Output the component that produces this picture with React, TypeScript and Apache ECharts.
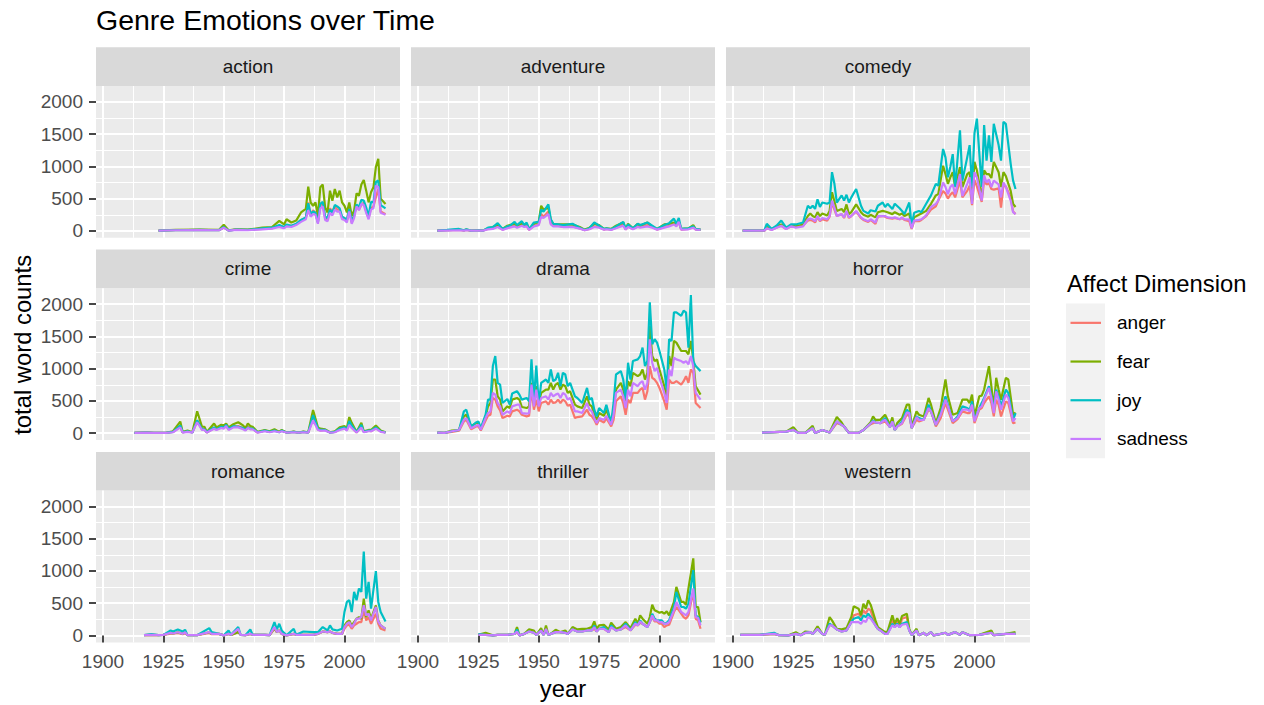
import React, { useEffect, useRef } from "react";
import * as echarts from "echarts";

const emotions = ["anger", "fear", "joy", "sadness"];
const emotionColors = ["#F8766D", "#7CAE00", "#00BFC4", "#C77CFF"];
const xMajorTicks = [1900, 1925, 1950, 1975, 2000];
const xMinorTicks = [1912.5, 1937.5, 1962.5, 1987.5, 2012.5];
const yMajorTicks = [0, 500, 1000, 1500, 2000];
const yMinorTicks = [250, 750, 1250, 1750];

// ---- action ----
const actionYears = [1923,1930,1940,1948,1950,1952,1955,1960,1966,1970,1973,1975,1976,1978,1980,1982,1984,1985,1986,1987,1988,1989,1990,1991,1992,1993,1994,1995,1996,1997,1998,1999,2000,2001,2002,2003,2004,2005,2006,2007,2008,2009,2010,2011,2012,2013,2014,2015,2017];
const actionAnger = [5,10,15,10,50,5,20,15,30,40,80,60,90,80,100,170,200,440,250,320,280,140,400,420,200,170,350,300,380,330,330,210,200,160,350,130,250,390,330,400,440,300,200,350,380,520,650,300,260];
const actionFear = [5,15,20,15,94,10,25,20,50,60,156,100,180,130,160,286,340,686,440,390,440,234,676,718,364,286,624,468,650,520,624,442,390,286,442,234,312,582,546,718,790,624,442,598,676,988,1118,500,416];
const actionJoy = [5,10,15,10,60,5,20,15,40,50,90,60,100,80,110,170,210,430,260,300,280,130,420,450,220,200,330,280,400,380,350,220,200,170,340,150,230,410,370,480,470,360,230,450,440,760,780,400,350];
const actionSadness = [5,10,12,10,50,5,15,10,25,35,60,40,70,60,90,140,180,320,220,260,250,110,350,380,170,150,280,240,330,300,300,180,170,130,300,110,200,380,320,420,400,280,180,330,350,700,680,280,250];

// ---- adventure ----
const adventureYears = [1908,1912,1917,1919,1920,1922,1925,1927,1929,1931,1933,1935,1937,1938,1940,1941,1943,1944,1945,1946,1948,1950,1951,1952,1954,1955,1956,1958,1960,1964,1967,1969,1971,1973,1975,1977,1978,1980,1982,1985,1986,1987,1989,1991,1992,1995,1997,1999,2002,2004,2006,2007,2008,2009,2012,2014,2015,2017];
const adventureAnger = [5,10,15,5,15,5,10,5,30,40,70,20,50,60,80,60,90,70,80,15,80,100,260,220,300,120,80,80,60,70,40,10,30,70,60,20,30,20,50,100,20,70,30,70,60,90,60,20,60,80,110,80,150,20,30,60,20,15];
const adventureFear = [5,10,20,10,20,5,10,5,40,60,90,30,80,90,110,80,110,90,110,25,110,140,390,330,360,170,110,100,100,100,60,20,50,110,90,30,40,30,80,130,30,110,40,110,80,130,70,30,100,110,130,100,150,30,40,90,30,20];
const adventureJoy = [5,15,30,10,25,5,10,5,50,60,120,30,70,80,140,90,150,90,130,25,130,140,330,300,410,180,110,100,90,110,50,15,40,130,80,30,40,25,70,140,30,100,40,110,90,130,80,30,90,120,190,110,200,30,40,70,30,20];
const adventureSadness = [5,5,10,5,10,5,5,5,25,30,60,15,40,50,70,50,80,60,70,15,70,90,220,200,260,100,70,70,60,60,35,10,25,60,50,20,25,15,40,80,20,60,25,60,50,70,50,20,50,70,100,70,140,20,25,50,20,15];

// ---- comedy ----
const comedyYears = [1904,1913,1914,1916,1918,1920,1922,1924,1926,1929,1931,1932,1933,1934,1935,1936,1937,1939,1940,1941,1942,1943,1945,1946,1947,1948,1949,1951,1953,1954,1956,1957,1959,1960,1962,1963,1964,1966,1967,1969,1970,1971,1973,1974,1975,1977,1978,1980,1982,1984,1985,1987,1988,1989,1990,1991,1992,1994,1995,1997,1998,1999,2000,2001,2003,2004,2005,2006,2007,2008,2010,2011,2012,2013,2015,2016,2017];
const comedyAnger = [5,5,40,20,50,80,30,70,60,80,160,170,160,130,220,150,180,160,220,440,330,230,260,200,300,200,230,300,200,170,140,170,110,220,230,220,200,190,200,180,200,170,150,30,150,150,170,230,330,380,470,620,580,500,560,600,520,780,520,620,700,400,790,690,450,780,720,740,650,640,660,360,700,690,520,300,260];
const comedyFear = [5,5,60,25,70,100,40,90,70,100,230,270,230,210,290,230,270,240,310,600,460,310,340,290,410,260,290,410,290,250,220,250,210,290,310,300,290,260,290,250,270,230,270,50,210,250,270,310,420,550,570,1010,880,730,830,910,680,990,680,880,910,470,1070,940,520,940,880,880,820,1070,910,680,910,850,620,420,370];
const comedyJoy = [5,10,110,30,80,160,50,100,100,130,390,350,390,340,490,370,440,420,440,910,730,440,550,470,560,440,520,650,390,310,270,320,300,390,440,370,420,340,420,350,310,260,440,80,280,310,290,420,550,730,700,1270,1140,830,990,1190,680,1560,780,1140,1330,680,1510,1740,680,1640,1090,1480,1070,1660,1330,1090,1690,1660,1040,780,650];
const comedySadness = [5,5,40,15,50,80,30,70,50,70,180,190,180,150,230,160,200,180,230,470,360,230,260,210,310,210,230,310,210,180,150,180,130,230,230,230,210,200,210,180,210,180,180,40,160,170,180,240,370,420,470,750,680,570,680,720,570,880,540,730,830,420,910,830,470,860,750,800,680,780,720,520,750,680,470,290,260];

// ---- crime ----
const crimeYears = [1913,1918,1921,1926,1929,1932,1933,1935,1937,1939,1941,1942,1943,1946,1947,1949,1950,1951,1952,1954,1956,1958,1959,1960,1961,1962,1964,1967,1969,1971,1973,1974,1976,1979,1981,1983,1985,1987,1989,1990,1992,1994,1996,1998,2000,2001,2002,2003,2005,2007,2008,2010,2011,2013,2015,2017];
const crimeAnger = [5,10,5,5,20,100,10,30,10,200,60,60,10,80,60,90,80,120,60,100,110,80,50,100,70,70,10,40,20,50,20,40,10,20,10,20,10,230,60,40,50,10,20,60,80,50,150,90,10,100,20,40,30,80,30,10];
const crimeFear = [5,15,5,5,30,180,20,40,15,340,100,100,20,150,90,130,120,150,90,140,170,120,80,150,110,100,20,50,30,60,20,50,10,25,10,25,15,360,90,70,60,15,30,90,110,80,250,160,20,160,30,50,50,120,40,15];
const crimeJoy = [5,10,5,5,20,120,15,30,10,200,60,60,15,90,60,100,90,130,70,110,100,80,50,90,70,70,15,40,20,40,15,40,10,20,10,20,10,280,70,50,50,10,20,70,90,60,190,120,15,130,20,40,40,90,30,10];
const crimeSadness = [5,10,5,5,15,90,10,20,10,170,50,50,10,70,50,80,70,110,50,90,90,60,40,80,60,60,10,30,15,30,15,30,10,15,10,15,10,200,50,40,40,10,15,50,70,40,130,80,10,90,15,30,30,70,20,10];

// ---- drama ----
const dramaYears = [1908,1911,1914,1917,1919,1920,1922,1924,1925,1926,1928,1929,1930,1931,1932,1933,1934,1935,1937,1938,1939,1941,1942,1943,1945,1946,1947,1948,1949,1950,1951,1953,1954,1955,1956,1957,1958,1959,1960,1961,1962,1963,1965,1966,1968,1970,1971,1972,1973,1974,1975,1977,1978,1980,1981,1982,1984,1985,1986,1987,1988,1989,1991,1992,1993,1994,1995,1996,1997,1998,1999,2000,2002,2003,2004,2005,2006,2007,2009,2010,2011,2012,2013,2014,2015,2017];
const dramaAnger = [10,5,20,40,182,208,62,104,104,42,198,270,286,546,520,416,354,234,270,260,338,364,338,286,260,270,676,364,520,338,468,494,442,520,468,478,520,468,520,494,426,442,234,250,260,364,286,260,208,130,208,166,234,104,208,494,572,468,286,520,468,624,624,676,702,520,650,1040,858,832,780,702,494,364,832,780,780,806,754,806,884,780,988,936,468,390];
const dramaFear = [10,5,40,50,260,286,104,156,156,62,260,416,468,832,832,572,520,338,416,390,520,546,520,406,390,416,780,468,728,468,624,676,676,780,676,754,780,676,754,728,624,650,442,416,390,572,442,416,286,208,312,270,364,146,364,676,780,676,468,806,728,936,884,910,988,832,936,1664,1196,1118,1144,988,728,572,1196,1040,1430,1404,1274,1274,1274,1222,1430,1144,728,598];
const dramaJoy = [10,5,30,50,338,364,104,166,182,78,286,520,520,1040,1196,780,754,468,530,442,614,650,598,520,546,494,1144,520,1050,442,780,832,780,988,806,832,936,728,936,910,728,780,572,546,468,702,520,546,364,260,390,312,442,156,468,910,962,832,520,1092,832,1118,1144,1196,1326,1040,1118,2028,1378,1456,1404,1274,988,676,1456,1430,1872,1872,1820,1898,1872,1326,2140,1118,1040,962];
const dramaSadness = [10,5,30,50,208,234,78,114,130,52,234,312,338,624,598,468,416,286,338,312,416,442,442,312,302,312,754,416,676,416,546,572,520,624,572,598,614,546,624,598,520,546,338,338,312,468,364,338,234,156,234,208,270,130,286,624,676,572,390,676,572,780,728,780,806,676,780,1456,1092,962,1014,858,624,468,988,884,1170,1144,1118,1092,1118,1066,1196,1040,624,520];

// ---- horror ----
const horrorYears = [1912,1922,1925,1927,1930,1933,1934,1937,1940,1943,1945,1946,1948,1952,1954,1957,1958,1959,1961,1963,1965,1966,1967,1968,1970,1972,1973,1974,1976,1977,1979,1981,1982,1984,1986,1988,1989,1991,1993,1995,1997,1998,1999,2000,2002,2003,2004,2006,2007,2008,2009,2010,2011,2013,2014,2016,2017];
const horrorAnger = [10,25,52,5,5,78,5,50,10,156,130,104,5,5,50,140,156,166,156,182,94,182,52,104,146,286,270,78,208,182,208,364,338,104,234,468,364,156,218,338,312,312,416,156,364,390,468,572,468,260,520,442,260,494,468,156,166];
const horrorFear = [10,25,94,5,5,114,5,50,10,250,166,104,5,5,50,170,260,208,208,286,130,244,52,156,234,442,442,104,338,286,260,546,442,156,390,832,572,286,312,520,520,468,598,260,572,582,676,1040,728,390,858,676,520,858,832,286,322];
const horrorJoy = [10,25,52,5,5,78,5,50,10,182,130,104,5,5,50,150,198,166,156,234,94,182,52,104,182,364,322,78,260,234,208,442,338,130,312,572,442,182,260,416,390,364,494,208,390,468,546,728,572,364,676,572,416,676,624,208,312];
const horrorSadness = [10,25,52,5,5,78,5,50,10,182,130,104,5,5,50,150,182,166,156,208,94,182,52,104,156,322,312,78,250,208,208,390,338,130,286,520,416,182,234,364,364,338,442,182,390,416,520,702,546,312,650,520,364,598,546,182,234];

// ---- romance ----
const romanceYears = [1917,1920,1923,1925,1928,1929,1931,1933,1934,1935,1939,1944,1945,1948,1950,1952,1953,1956,1957,1959,1961,1962,1964,1967,1969,1971,1972,1973,1974,1976,1979,1980,1983,1987,1989,1991,1993,1994,1995,1997,1999,2000,2001,2002,2003,2004,2005,2006,2007,2008,2009,2010,2011,2013,2014,2015,2017];
const romanceAnger = [5,10,5,10,30,30,40,20,40,5,5,40,20,25,2,25,10,52,10,5,25,10,10,10,5,104,52,78,25,2,25,10,10,10,25,60,52,62,40,25,25,104,156,166,104,156,182,208,208,390,234,286,182,338,182,104,78];
const romanceFear = [5,10,5,10,40,30,50,25,50,5,5,50,25,25,2,25,10,52,10,5,25,10,10,10,5,114,52,78,25,2,25,10,10,10,25,62,52,62,40,25,25,156,208,234,156,208,260,286,260,572,286,390,260,468,234,156,104];
const romanceJoy = [5,20,5,10,78,62,94,62,88,5,5,114,52,25,2,78,10,130,10,5,94,10,10,10,5,208,94,182,78,2,104,10,62,52,52,130,78,156,94,78,104,364,520,546,364,676,546,728,676,1300,572,832,416,998,520,364,218];
const romanceSadness = [5,10,5,10,40,30,50,25,50,5,5,52,25,25,2,25,10,104,10,5,25,10,10,10,5,130,52,78,25,2,25,10,10,10,25,62,52,62,40,25,25,130,182,208,130,182,260,260,286,468,312,338,234,442,218,156,104];

// ---- thriller ----
const thrillerYears = [1925,1928,1931,1933,1937,1940,1941,1942,1944,1946,1948,1949,1951,1952,1953,1954,1955,1957,1959,1961,1962,1964,1966,1968,1970,1972,1973,1974,1975,1977,1979,1980,1982,1984,1986,1988,1990,1991,1992,1993,1995,1996,1997,1998,1999,2000,2001,2002,2003,2004,2006,2007,2009,2010,2011,2012,2014,2015,2016,2017];
const thrillerAnger = [10,10,2,10,10,25,52,2,25,62,42,10,78,10,94,10,25,52,52,42,25,94,62,62,78,78,104,62,104,104,52,130,78,94,130,78,166,156,198,182,130,208,286,218,218,182,182,130,156,166,364,442,338,286,260,312,676,260,234,104];
const thrillerFear = [10,42,2,10,10,25,130,2,25,94,78,10,114,10,156,10,25,88,52,78,25,130,94,104,104,130,218,104,156,166,94,198,104,130,208,114,260,182,312,260,182,286,478,390,374,354,364,338,374,312,520,754,520,520,478,728,1196,442,442,208];
const thrillerJoy = [20,10,2,10,10,25,94,2,25,62,42,10,78,10,94,10,25,52,52,42,25,94,62,62,78,78,156,62,104,130,52,156,78,94,182,78,208,156,234,182,130,208,338,260,234,234,234,182,198,234,442,676,442,442,416,494,1014,312,286,198];
const thrillerSadness = [10,10,2,10,10,25,62,2,25,62,42,10,78,10,104,10,25,52,52,42,25,94,62,62,78,78,130,62,104,104,52,130,78,94,156,78,182,156,218,182,130,208,312,234,234,208,208,182,182,208,390,520,364,338,312,364,728,286,270,156];

// ---- western ----
const westernYears = [1903,1911,1917,1919,1923,1926,1928,1930,1932,1933,1935,1937,1938,1940,1941,1943,1945,1947,1949,1950,1952,1953,1954,1955,1956,1957,1959,1960,1961,1963,1964,1966,1967,1968,1969,1970,1972,1973,1974,1976,1977,1979,1980,1982,1983,1986,1988,1989,1992,1994,1995,1998,2002,2007,2008,2013,2017];
const westernAnger = [10,10,25,5,2,25,5,42,52,25,104,25,10,166,156,94,62,78,208,312,338,286,390,338,416,390,156,104,78,26,26,234,130,234,130,260,286,78,10,78,2,42,2,52,2,25,42,10,52,10,52,5,10,42,5,25,25];
const westernFear = [10,10,25,5,2,52,5,62,52,25,140,25,10,286,234,104,94,114,286,452,416,312,494,416,546,478,234,130,104,52,62,312,182,270,182,302,338,104,10,104,2,42,2,52,2,25,42,10,52,10,52,5,10,78,5,25,52];
const westernJoy = [10,10,42,5,2,25,5,42,52,25,104,25,10,182,156,94,62,78,208,260,286,234,312,286,338,286,156,104,78,26,26,182,130,182,130,182,208,78,10,78,2,42,2,52,2,25,42,10,52,10,52,5,10,42,5,25,25];
const westernSadness = [10,10,25,5,2,25,5,42,52,25,104,25,10,156,156,94,62,78,208,208,208,182,234,208,286,260,156,104,78,26,26,156,130,166,130,166,182,78,10,78,2,42,2,52,2,25,42,10,52,10,52,5,10,42,5,25,25];

const panels = [
  { genre: "action", years: actionYears, values: [actionAnger, actionFear, actionJoy, actionSadness] },
  { genre: "adventure", years: adventureYears, values: [adventureAnger, adventureFear, adventureJoy, adventureSadness] },
  { genre: "comedy", years: comedyYears, values: [comedyAnger, comedyFear, comedyJoy, comedySadness] },
  { genre: "crime", years: crimeYears, values: [crimeAnger, crimeFear, crimeJoy, crimeSadness] },
  { genre: "drama", years: dramaYears, values: [dramaAnger, dramaFear, dramaJoy, dramaSadness] },
  { genre: "horror", years: horrorYears, values: [horrorAnger, horrorFear, horrorJoy, horrorSadness] },
  { genre: "romance", years: romanceYears, values: [romanceAnger, romanceFear, romanceJoy, romanceSadness] },
  { genre: "thriller", years: thrillerYears, values: [thrillerAnger, thrillerFear, thrillerJoy, thrillerSadness] },
  { genre: "western", years: westernYears, values: [westernAnger, westernFear, westernJoy, westernSadness] },
];

const FONT = "'Liberation Sans', Arial, Helvetica, sans-serif";
const COL_X = [96, 411, 726];
const PANEL_W = 304;
const STRIP_TOP = [47.3, 249.6, 451.9];
const STRIP_H = 38.7;
const PLOT_H = 151.8;
const X_MIN = 1897.1;
const X_MAX = 2023.0;
const Y_MIN = -107;
const Y_MAX = 2246;

function buildOption() {
  const grid: any[] = [];
  const xAxis: any[] = [];
  const yAxis: any[] = [];
  const series: any[] = [];
  const graphics: any[] = [];

  panels.forEach((p, i) => {
    const r = Math.floor(i / 3);
    const c = i % 3;
    const plotTop = STRIP_TOP[r] + STRIP_H;
    grid.push({
      left: COL_X[c], top: plotTop, width: PANEL_W, height: PLOT_H,
      show: true, backgroundColor: "#EBEBEB", borderWidth: 0, containLabel: false,
    });
    const fmt = (v: number) => String(v);
    xAxis.push({
      type: "value", gridIndex: i, min: X_MIN, max: X_MAX,
      axisLine: { show: false },
      axisTick: { show: r === 2, customValues: xMajorTicks, length: 7, lineStyle: { color: "#333333", width: 1.8 } },
      axisLabel: { show: r === 2, customValues: xMajorTicks, formatter: fmt, color: "#4D4D4D", fontSize: 19, fontFamily: FONT, margin: 10 },
      splitLine: { show: true, lineStyle: { color: "#FFFFFF", width: 2 } },
    });
    xAxis.push({
      type: "value", gridIndex: i, min: X_MIN, max: X_MAX,
      axisLine: { show: false },
      axisTick: { show: false, customValues: xMinorTicks },
      axisLabel: { show: false, customValues: xMinorTicks },
      splitLine: { show: true, lineStyle: { color: "#FFFFFF", width: 1 } },
    });
    yAxis.push({
      type: "value", gridIndex: i, min: Y_MIN, max: Y_MAX,
      axisLine: { show: false },
      axisTick: { show: c === 0, customValues: yMajorTicks, length: 7, lineStyle: { color: "#333333", width: 1.8 } },
      axisLabel: { show: c === 0, customValues: yMajorTicks, formatter: fmt, color: "#4D4D4D", fontSize: 19, fontFamily: FONT, margin: 13 },
      splitLine: { show: true, lineStyle: { color: "#FFFFFF", width: 2 } },
    });
    yAxis.push({
      type: "value", gridIndex: i, min: Y_MIN, max: Y_MAX,
      axisLine: { show: false },
      axisTick: { show: false, customValues: yMinorTicks },
      axisLabel: { show: false, customValues: yMinorTicks },
      splitLine: { show: true, lineStyle: { color: "#FFFFFF", width: 1 } },
    });

    emotions.forEach((name, k) => {
      series.push({
        type: "line", name,
        xAxisIndex: 2 * i, yAxisIndex: 2 * i,
        data: p.years.map((y, j) => [y, p.values[k][j]]),
        symbol: "none", showSymbol: false, silent: true,
        lineStyle: { width: 2.2, color: emotionColors[k] },
        itemStyle: { color: emotionColors[k] },
        emphasis: { disabled: true },
        z: 3,
      });
    });

    // strip
    graphics.push({
      type: "rect", shape: { x: COL_X[c], y: STRIP_TOP[r], width: PANEL_W, height: STRIP_H },
      style: { fill: "#D9D9D9" }, silent: true,
    });
    graphics.push({
      type: "text", x: COL_X[c] + PANEL_W / 2, y: STRIP_TOP[r] + STRIP_H / 2,
      style: { text: p.genre, fill: "#1A1A1A", fontSize: 19, fontFamily: FONT, textAlign: "center", verticalAlign: "middle" },
      silent: true,
    });
  });

  // title and axis titles
  graphics.push({
    type: "text", x: 96, y: 19.5,
    style: { text: "Genre Emotions over Time", fill: "#000000", fontSize: 28.5, fontFamily: FONT, textAlign: "left", verticalAlign: "middle" },
  });
  graphics.push({
    type: "text", x: (COL_X[0] + COL_X[2] + PANEL_W) / 2, y: 688,
    style: { text: "year", fill: "#000000", fontSize: 23.8, fontFamily: FONT, textAlign: "center", verticalAlign: "middle" },
  });
  graphics.push({
    type: "text", x: 22, y: (STRIP_TOP[0] + STRIP_TOP[2] + STRIP_H + PLOT_H) / 2, rotation: Math.PI / 2,
    style: { text: "total word counts", fill: "#000000", fontSize: 23.8, fontFamily: FONT, textAlign: "center", verticalAlign: "middle" },
  });

  // legend
  const legX = 1066;
  const legTop = 303.5;
  const keyH = 38.7;
  graphics.push({
    type: "text", x: legX + 1, y: 283,
    style: { text: "Affect Dimension", fill: "#000000", fontSize: 23.8, fontFamily: FONT, textAlign: "left", verticalAlign: "middle" },
  });
  graphics.push({
    type: "rect", shape: { x: legX, y: legTop, width: 39, height: keyH * 4 },
    style: { fill: "#F2F2F2" },
  });
  emotions.forEach((name, k) => {
    const cy = legTop + keyH * k + keyH / 2;
    graphics.push({
      type: "line", shape: { x1: legX + 4.5, y1: cy, x2: legX + 35, y2: cy },
      style: { stroke: emotionColors[k], lineWidth: 2.2 },
    });
    graphics.push({
      type: "text", x: 1117, y: cy,
      style: { text: name, fill: "#000000", fontSize: 19, fontFamily: FONT, textAlign: "left", verticalAlign: "middle" },
    });
  });

  return {
    animation: false,
    backgroundColor: "#FFFFFF",
    textStyle: { fontFamily: FONT },
    grid, xAxis, yAxis, series,
    graphic: { elements: graphics },
  };
}

export default function App() {
  const ref = useRef<HTMLDivElement>(null);
  useEffect(() => {
    if (!ref.current) return;
    const chart = echarts.init(ref.current, null, { renderer: "svg" });
    chart.setOption(buildOption() as any);
    return () => chart.dispose();
  }, []);
  return (
    <div
      ref={ref}
      style={{ position: "absolute", left: 0, top: 0, width: 1264, height: 705 }}
    />
  );
}
